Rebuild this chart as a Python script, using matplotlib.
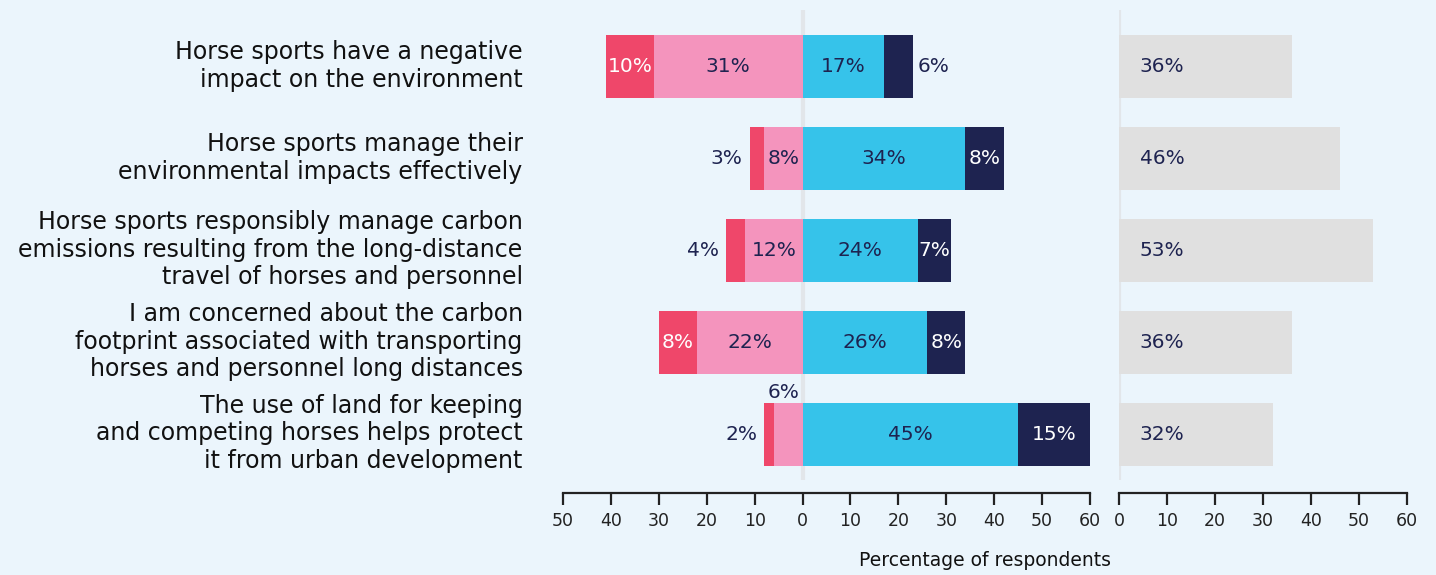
import matplotlib.pyplot as plt
import matplotlib.transforms as mtransforms
import numpy as np

plt.rcParams['font.family'] = ['DejaVu Sans']

statements = [
    "Horse sports have a negative\nimpact on the environment",
    "Horse sports manage their\nenvironmental impacts effectively",
    "Horse sports responsibly manage carbon\nemissions resulting from the long-distance\ntravel of horses and personnel",
    "I am concerned about the carbon\nfootprint associated with transporting\nhorses and personnel long distances",
    "The use of land for keeping\nand competing horses helps protect\nit from urban development",
]
strongly_disagree = [10, 3, 4, 8, 2]
disagree = [31, 8, 12, 22, 6]
agree = [17, 34, 24, 26, 45]
strongly_agree = [6, 8, 7, 8, 15]
neutral = [36, 46, 53, 36, 32]

bg = '#EBF5FC'
navy = '#1E2350'
red = '#EF476A'
pink = '#F494BD'
cyan = '#36C3EA'
grey = '#E0E0E0'
line_grey = '#E2E6EA'

fig = plt.figure(figsize=(14.36, 5.75), dpi=100, facecolor=bg)
ax = fig.add_axes([563/1436, 1-480/575, (1090-563)/1436, 470/575])
ax2 = fig.add_axes([1119/1436, 1-480/575, (1407-1119)/1436, 470/575])

y = np.arange(len(statements))
h = 0.685
sd = np.array(strongly_disagree)
d = np.array(disagree)
a = np.array(agree)
sa = np.array(strongly_agree)

ax.axvline(0, color=line_grey, lw=3, zorder=0)
ax.barh(y, -d, height=h, color=pink, zorder=2)
ax.barh(y, -sd, left=-d, height=h, color=red, zorder=2)
ax.barh(y, a, height=h, color=cyan, zorder=2)
ax.barh(y, sa, left=a, height=h, color=navy, zorder=2)

fs = 14.5
for i in range(len(y)):
    # strongly disagree
    if sd[i] >= 5:
        ax.text(-d[i] - sd[i] / 2, i, f"{sd[i]}%", ha='center', va='center', color='white', fontsize=fs)
    else:
        ax.text(-d[i] - sd[i] - 1.5, i, f"{sd[i]}%", ha='right', va='center', color=navy, fontsize=fs)
    # disagree
    if d[i] >= 7:
        ax.text(-d[i] / 2, i, f"{d[i]}%", ha='center', va='center', color=navy, fontsize=fs)
    else:
        ax.text(-d[i] / 2 - 1, i - h / 2 - 0.01, f"{d[i]}%", ha='center', va='bottom', color=navy, fontsize=fs)
    ax.text(a[i] / 2, i, f"{a[i]}%", ha='center', va='center', color=navy, fontsize=fs)
    if sa[i] >= 7:
        ax.text(a[i] + sa[i] / 2, i, f"{sa[i]}%", ha='center', va='center', color='white', fontsize=fs)
    else:
        ax.text(a[i] + sa[i] + 1, i, f"{sa[i]}%", ha='left', va='center', color=navy, fontsize=fs)

ax2.axvline(0, color=line_grey, lw=3, zorder=0)
ax2.barh(y, neutral, height=h, color=grey, zorder=2)
for i, v in enumerate(neutral):
    ax2.text(4.3, i, f"{v}%", ha='left', va='center', color=navy, fontsize=fs)

for axis in (ax, ax2):
    axis.set_facecolor(bg)
    axis.set_ylim(4.5, -0.615)
    for s in ('top', 'right', 'left'):
        axis.spines[s].set_visible(False)
    axis.spines['bottom'].set_position(('outward', 9.5))
    axis.spines['bottom'].set_linewidth(1.6)
    axis.spines['bottom'].set_color('#222222')
    axis.tick_params(axis='x', length=8.5, width=1.6, color='#222222', labelsize=12.5,
                     labelcolor='#222222', pad=5)

ax.set_xlim(-50, 60)
ticks = np.arange(-50, 61, 10)
ax.set_xticks(ticks)
ax.set_xticklabels([str(abs(t)) for t in ticks])
ax.set_yticks(y)
ax.set_yticklabels(statements, fontsize=17, color='#111111', linespacing=1.2)
ax.tick_params(axis='y', length=0, pad=29)
# nudge statement labels up a little, as in the original
shift = mtransforms.ScaledTranslation(0, 5/100, fig.dpi_scale_trans)
for lab in ax.get_yticklabels():
    lab.set_transform(lab.get_transform() + shift)

ax2.set_xlim(0, 60)
ax2.set_xticks(np.arange(0, 61, 10))
ax2.set_yticks([])

fig.text(985/1436, 1-561/575, "Percentage of respondents", ha='center', va='center',
         fontsize=13.5, color='#111111')

fig.savefig('out.png', dpi=100, facecolor=bg)
